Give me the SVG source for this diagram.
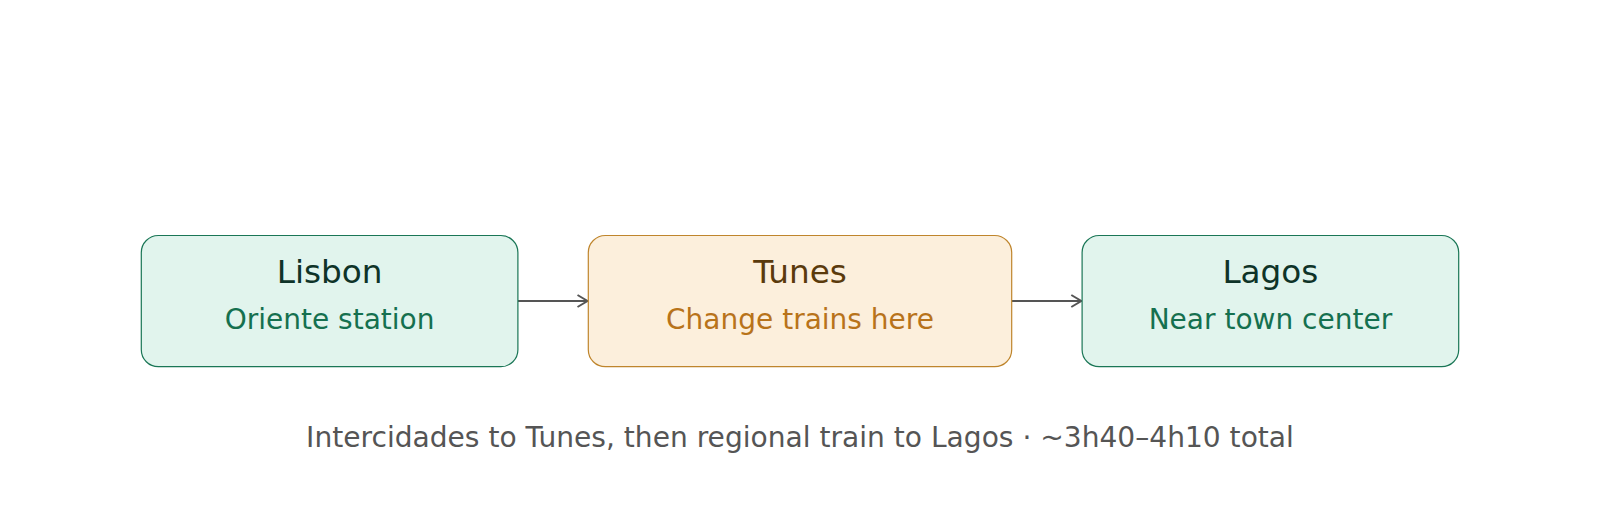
<svg xmlns="http://www.w3.org/2000/svg" width="1600" height="517" viewBox="0 0 1600 517">
<style>
text{font-family:"DejaVu Sans","Liberation Sans",sans-serif;text-anchor:middle}
.g rect{fill:#e1f4ed;stroke:#1a7656;stroke-width:1.2}
.o rect{fill:#fcefdc;stroke:#bf852c;stroke-width:1.2}
.t{font-size:32.7px}
.s{font-size:28px}
.g .t{fill:#0e3328}
.g .s{fill:#15704f}
.o .t{fill:#5a3a0c}
.o .s{fill:#b8731a}
.edge{stroke:#555;stroke-width:2;fill:none}
.cap{font-size:28.1px;fill:#555}
</style>
<defs>
<marker id="arr" viewBox="0 0 12 14" refX="11" refY="7" markerWidth="12" markerHeight="14" markerUnits="userSpaceOnUse" orient="auto">
<path d="M1,1 L11,7 L1,13" fill="none" stroke="#555" stroke-width="2"/>
</marker>
</defs>
<rect width="1600" height="517" fill="#fff"/>
<g id="connectors">
<line class="edge" x1="517.9" y1="301" x2="587.5" y2="301" marker-end="url(#arr)"/>
<line class="edge" x1="1011.7" y1="301" x2="1081.3" y2="301" marker-end="url(#arr)"/>
</g>
<g id="lisbon" class="g">
<rect x="141.3" y="235.5" width="376.6" height="131.2" rx="17"/>
<text class="t" x="329.6" y="282.5">Lisbon</text>
<text class="s" x="329.6" y="328.5">Oriente station</text>
</g>
<g id="tunes" class="o">
<rect x="588.3" y="235.5" width="423.4" height="131.2" rx="17"/>
<text class="t" x="800" y="282.5">Tunes</text>
<text class="s" x="800" y="328.5">Change trains here</text>
</g>
<g id="lagos" class="g">
<rect x="1082.1" y="235.5" width="376.6" height="131.2" rx="17"/>
<text class="t" x="1270.4" y="282.5">Lagos</text>
<text class="s" x="1270.4" y="328.5">Near town center</text>
</g>
<text id="caption" class="cap" x="800" y="446.5">Intercidades to Tunes, then regional train to Lagos · ~3h40–4h10 total</text>
</svg>
